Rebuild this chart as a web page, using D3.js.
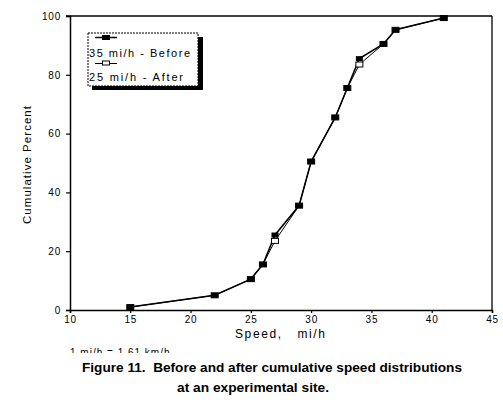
<!DOCTYPE html>
<html><head><meta charset="utf-8">
<script src="https://cdn.jsdelivr.net/npm/d3@7"></script>
<style>body{margin:0;background:#fff}svg{display:block}</style>
</head><body>
<script>
const speeds = [15, 22, 25, 26, 27, 29, 30, 32, 33, 34, 36, 37, 41];
const before = [1, 5, 10.5, 15.5, 25.5, 35.5, 50.5, 65.5, 75.5, 85.5, 90.5, 95.3, 99.3];
const after  = [1, 5, 10.5, 15.5, 23.5, 35.5, 50.5, 65.5, 75.5, 83.5, 90.5, 95.3, 99.3];
const xTicks = [10, 15, 20, 25, 30, 35, 40, 45];
const yTicks = [0, 20, 40, 60, 80, 100];
const seriesNames = ["35 mi/h - Before", "25 mi/h - After"];

const W = 503, H = 406;
const svg = d3.select("body").append("svg").attr("width", W).attr("height", H);
const x = d3.scaleLinear().domain([10, 45]).range([70, 492]);
const y = d3.scaleLinear().domain([0, 100]).range([310, 16]);
const font = "Liberation Sans, Arial, sans-serif";

// frame top and right
svg.append("line").attr("x1", 66).attr("x2", x(45)).attr("y1", y(100)).attr("y2", y(100))
  .attr("stroke", "#000").attr("stroke-width", 1.3);
svg.append("line").attr("x1", x(45)).attr("x2", x(45)).attr("y1", y(100)).attr("y2", y(0))
  .attr("stroke", "#000").attr("stroke-width", 1.3);

const xAxis = svg.append("g").attr("transform", `translate(0,${y(0)})`)
  .call(d3.axisBottom(x).tickValues(xTicks).tickSize(3).tickPadding(3));
const yAxis = svg.append("g").attr("transform", `translate(${x(10)},0)`)
  .call(d3.axisLeft(y).tickValues(yTicks).tickSize(4).tickPadding(5));
[xAxis, yAxis].forEach(a => {
  a.select(".domain").attr("stroke", "#000").attr("stroke-width", 1.5);
  a.selectAll(".tick line").attr("stroke", "#000").attr("stroke-width", 1.2);
  a.selectAll("text").attr("font-family", font).attr("font-size", 10).attr("fill", "#000")
    .attr("letter-spacing", 0.8);
});

// axis titles
svg.append("text").attr("x", 235).attr("y", 338)
  .attr("font-family", font).attr("font-size", 12).attr("xml:space", "preserve")
  .attr("textLength", 90).attr("lengthAdjust", "spacing").text("Speed,   mi/h");
svg.append("text").attr("transform", "translate(31,165) rotate(-90)").attr("text-anchor", "middle")
  .attr("font-family", font).attr("font-size", 11.5).attr("textLength", 118)
  .attr("lengthAdjust", "spacing").text("Cumulative Percent");

// lines
const line = d3.line().x(d => x(d[0])).y(d => y(d[1]));
const bData = speeds.map((s, i) => [s, before[i]]);
const aData = speeds.map((s, i) => [s, after[i]]);
svg.append("path").datum(aData).attr("d", line).attr("fill", "none").attr("stroke", "#000").attr("stroke-width", 1);
svg.append("path").datum(bData).attr("d", line).attr("fill", "none").attr("stroke", "#000").attr("stroke-width", 1.6);

// markers
svg.selectAll(".mA").data(aData).enter().append("rect")
  .attr("x", d => x(d[0]) - 3.5).attr("y", d => y(d[1]) - 2.5).attr("width", 7).attr("height", 5)
  .attr("fill", "#fff").attr("stroke", "#000").attr("stroke-width", 1);
svg.selectAll(".mB").data(bData).enter().append("rect")
  .attr("x", d => x(d[0]) - 3.5).attr("y", d => y(d[1]) - 2.5).attr("width", 7).attr("height", 5)
  .attr("fill", "#000");

// legend
const lg = svg.append("g");
lg.append("rect").attr("x", 92).attr("y", 37).attr("width", 111).attr("height", 53).attr("fill", "#000");
lg.append("rect").attr("x", 88).attr("y", 33).attr("width", 110).attr("height", 53)
  .attr("fill", "#fff").attr("stroke", "#000").attr("stroke-width", 1).attr("stroke-dasharray", "2,1");
lg.append("line").attr("x1", 95).attr("x2", 117).attr("y1", 37.5).attr("y2", 37.5).attr("stroke", "#000").attr("stroke-width", 1.5);
lg.append("rect").attr("x", 102).attr("y", 35).attr("width", 8).attr("height", 5).attr("fill", "#000");
lg.append("line").attr("x1", 95).attr("x2", 117).attr("y1", 63.5).attr("y2", 63.5).attr("stroke", "#000").attr("stroke-width", 1);
lg.append("rect").attr("x", 102.5).attr("y", 61).attr("width", 7).attr("height", 4).attr("fill", "#fff").attr("stroke", "#000");
const legLen = [101, 94];
lg.selectAll("text.lt").data(seriesNames).enter().append("text")
  .attr("x", 89).attr("y", (d, i) => 57 + i * 24).attr("font-family", font).attr("font-size", 11)
  .attr("textLength", (d, i) => legLen[i]).attr("lengthAdjust", "spacing")
  .text(d => d);

// note (clipped as in scan)
svg.append("clipPath").attr("id", "nc").append("rect").attr("x", 0).attr("y", 340).attr("width", 300).attr("height", 13);
svg.append("text").attr("x", 70).attr("y", 356).attr("font-family", font).attr("font-size", 10)
  .attr("letter-spacing", 1).attr("clip-path", "url(#nc)").text("1 mi/h = 1.61 km/h");

// caption
const cap = ["Figure 11.  Before and after cumulative speed distributions", "at an experimental site."];
svg.append("text").attr("x", 82).attr("y", 372).attr("font-family", font).attr("font-weight", "bold")
  .attr("font-size", 13).attr("xml:space", "preserve").attr("textLength", 380)
  .attr("lengthAdjust", "spacingAndGlyphs").text(cap[0]);
svg.append("text").attr("x", 177).attr("y", 392).attr("font-family", font).attr("font-weight", "bold")
  .attr("font-size", 13).attr("textLength", 152).attr("lengthAdjust", "spacingAndGlyphs").text(cap[1]);
</script>
</body></html>
